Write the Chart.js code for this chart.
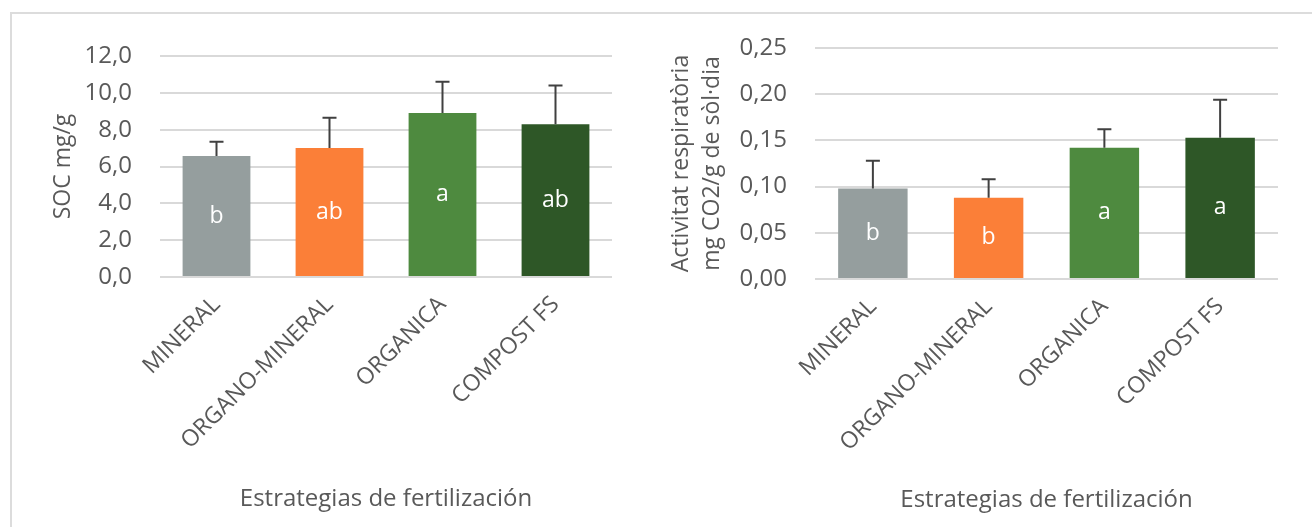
<!DOCTYPE html>
<html>
<head>
<meta charset="utf-8">
<script src="https://cdn.jsdelivr.net/npm/chart.js@4.4.1/dist/chart.umd.min.js"></script>
<style>
  body { margin: 0; background: #fff; }
  #marco { position: absolute; left: 10px; top: 12px; width: 1320px; height: 540px; border-top: 2px solid #dcdcdc; border-left: 2px solid #dcdcdc; }
  .caja { position: absolute; top: 0; height: 527px; }
</style>
</head>
<body>
<div id="marco"></div>
<div class="caja" style="left:0; width:650px;"><canvas id="graficoSOC"></canvas></div>
<div class="caja" style="left:650px; width:662px;"><canvas id="graficoResp"></canvas></div>
<script>
const categorias = ["MINERAL", "ORGANO-MINERAL", "ORGANICA", "COMPOST FS"]
const colores = ["#959e9e", "#fb7f38", "#4e8a3f", "#2e5727"]

const soc = [6.57, 7.0, 8.9, 8.3]
const socError = [0.78, 1.65, 1.7, 2.1]
const socLetras = ["b", "ab", "a", "ab"]

const respiracion = [0.098, 0.088, 0.142, 0.153]
const respiracionError = [0.030, 0.020, 0.020, 0.041]
const respiracionLetras = ["b", "b", "a", "a"]

const gris = "#595959"
const fuente = "'Open Sans', sans-serif"

// barras de error (solo hacia arriba) y letras dentro de las barras
const pluginExtras = {
    id: "extras",
    afterDatasetsDraw(chart, args, opts) {
        const c = chart.ctx
        const meta = chart.getDatasetMeta(0)
        const escalaY = chart.scales.y
        const valores = chart.data.datasets[0].data
        meta.data.forEach(function(barra, i) {
            const arriba = escalaY.getPixelForValue(valores[i] + opts.errores[i])
            c.save()
            c.strokeStyle = "#404040"
            c.lineWidth = 2
            c.beginPath()
            c.moveTo(barra.x, barra.y)
            c.lineTo(barra.x, arriba)
            c.moveTo(barra.x - 7, arriba)
            c.lineTo(barra.x + 7, arriba)
            c.stroke()
            c.fillStyle = "#ffffff"
            c.font = "23px " + fuente
            c.textAlign = "center"
            c.textBaseline = "middle"
            c.fillText(opts.letras[i], barra.x, (barra.y + barra.base) / 2)
            c.restore()
        })
    }
}

function crearGrafico(id, datos, errores, letras, config) {
    const ctx = document.getElementById(id).getContext("2d")
    return new Chart(ctx, {
        type: "bar",
        data: {
            labels: categorias,
            datasets: [{
                data: datos,
                backgroundColor: colores,
                categoryPercentage: 1,
                barPercentage: 0.6
            }]
        },
        options: {
            responsive: true,
            maintainAspectRatio: false,
            animation: false,
            layout: { padding: config.padding },
            plugins: {
                legend: { display: false },
                tooltip: { enabled: false },
                extras: { errores: errores, letras: letras }
            },
            scales: {
                x: {
                    grid: { display: false, drawTicks: false },
                    border: { display: false },
                    ticks: {
                        color: gris,
                        font: { family: fuente, size: 23 },
                        minRotation: 45,
                        maxRotation: 45,
                        padding: 14
                    },
                    title: {
                        display: true,
                        text: "Estrategias de fertilización",
                        color: gris,
                        font: { family: fuente, size: 24 },
                        padding: { top: 0, bottom: config.tituloX }
                    },
                    afterFit: function(eje) { eje.height = config.altoX }
                },
                y: {
                    min: 0,
                    max: config.max,
                    ticks: {
                        stepSize: config.paso,
                        color: gris,
                        font: { family: fuente, size: 24 },
                        padding: 28,
                        callback: function(v) { return v.toFixed(config.decimales).replace(".", ",") }
                    },
                    grid: { color: "#d9d9d9", lineWidth: 2, drawTicks: false },
                    border: { display: false },
                    title: {
                        display: true,
                        text: config.tituloY,
                        color: gris,
                        font: { family: fuente, size: 23, lineHeight: 1.35 },
                        padding: { top: config.padTituloY, bottom: 0 }
                    },
                    afterFit: function(eje) { eje.width = config.anchoY }
                }
            }
        },
        plugins: [pluginExtras]
    })
}

crearGrafico("graficoSOC", soc, socError, socLetras, {
    padding: { left: 0, right: 38, top: 56, bottom: 10 },
    altoX: 240, anchoY: 160, tituloX: 3,
    max: 12, paso: 2, decimales: 1,
    tituloY: "SOC mg/g", padTituloY: 48
})

crearGrafico("graficoResp", respiracion, respiracionError, respiracionLetras, {
    padding: { left: 0, right: 34, top: 48, bottom: 10 },
    altoX: 238, anchoY: 165, tituloX: 2,
    max: 0.25, paso: 0.05, decimales: 2,
    tituloY: ["Activitat respiratòria", "mg CO2/g de sòl·dia"], padTituloY: 16
})
</script>
</body>
</html>
